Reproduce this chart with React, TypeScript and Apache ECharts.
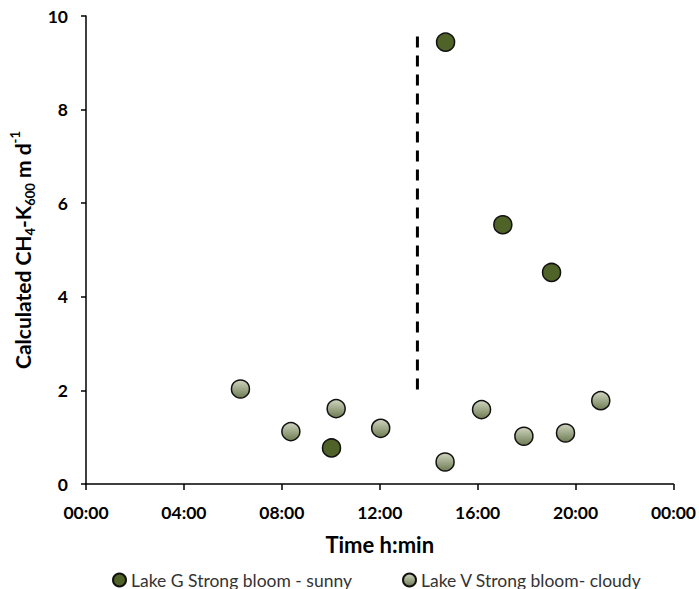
import React, { useEffect, useRef } from "react";
import * as echarts from "echarts";

// Time in decimal hours, CH4-K600 in m d-1
const lakeGTimes = [10.03, 14.69, 17.03, 19.02];
const lakeGValues = [0.77, 9.44, 5.54, 4.52];
const lakeVTimes = [6.31, 8.37, 10.22, 12.04, 14.67, 16.16, 17.89, 19.59, 21.03];
const lakeVValues = [2.03, 1.12, 1.61, 1.19, 0.47, 1.59, 1.02, 1.09, 1.78];
const dividerTimes = [13.54, 13.54];
const dividerValues = [9.56, 1.94];
const seriesNames = ["Lake G Strong bloom - sunny", "Lake V Strong bloom- cloudy"];

const FONT = "Lato, 'Open Sans', sans-serif";

function fmtTime(v: number) {
  const h = Math.round(v) % 24;
  return (h < 10 ? "0" : "") + h + ":00";
}

export default function App() {
  const ref = useRef<HTMLDivElement>(null);
  useEffect(() => {
    if (!ref.current) return;
    const chart = echarts.init(ref.current, null, { renderer: "svg" });
    const lightFill = {
      type: "linear",
      x: 0,
      y: 0,
      x2: 0,
      y2: 1,
      colorStops: [
        { offset: 0, color: "#d0d5c0" },
        { offset: 1, color: "#6e7c52" },
      ],
    };
    const legendCommon = {
      top: 566,
      icon: "circle",
      itemWidth: 13,
      itemHeight: 13,
      textStyle: { fontFamily: FONT, fontSize: 17.5, color: "#333" },
    };
    chart.setOption({
      animation: false,
      backgroundColor: "#ffffff",
      grid: { left: 86, right: 25, top: 16, bottom: 105, containLabel: false },
      legend: [
        { ...legendCommon, data: [seriesNames[0]], left: 107 },
        { ...legendCommon, data: [seriesNames[1]], left: 397 },
      ],
      xAxis: {
        type: "value",
        min: 0,
        max: 24,
        interval: 4,
        name: "Time h:min",
        nameLocation: "middle",
        nameGap: 49,
        nameTextStyle: { fontFamily: FONT, fontSize: 22, fontWeight: "bold", color: "#000" },
        axisLine: { show: true, lineStyle: { color: "#000", width: 1.5 } },
        axisTick: { show: true, length: 6, lineStyle: { color: "#000", width: 1.5 } },
        axisLabel: {
          formatter: (v: number) => fmtTime(v),
          fontFamily: FONT,
          fontSize: 17.5,
          fontWeight: "bold",
          color: "#000",
          margin: 19,
        },
        splitLine: { show: false },
      },
      yAxis: {
        type: "value",
        min: 0,
        max: 10,
        interval: 2,
        name: "{a|Calculated CH}{s|4}{a|-K}{s|600}{a| m d}{p|-1}",
        nameLocation: "middle",
        nameGap: 44,
        nameTextStyle: {
          fontFamily: FONT,
          fontSize: 21,
          fontWeight: "bold",
          color: "#000",
          rich: {
            a: { fontFamily: FONT, fontSize: 21, fontWeight: "bold", color: "#000", lineHeight: 28 },
            s: { fontFamily: FONT, fontSize: 13, fontWeight: "bold", color: "#000", lineHeight: 13, verticalAlign: "bottom" },
            p: { fontFamily: FONT, fontSize: 13, fontWeight: "bold", color: "#000", lineHeight: 13, verticalAlign: "top" },
          },
        },
        axisLine: { show: true, lineStyle: { color: "#000", width: 1.5 } },
        axisTick: { show: true, length: 5, lineStyle: { color: "#000", width: 1.5 } },
        axisLabel: { fontFamily: FONT, fontSize: 17.5, fontWeight: "bold", color: "#000", margin: 18 },
        splitLine: { show: false },
      },
      series: [
        {
          name: "divider",
          type: "line",
          data: dividerTimes.map((t, i) => [t, dividerValues[i]]),
          symbol: "none",
          silent: true,
          lineStyle: { color: "#000", width: 3, type: [11, 8] },
          z: 1,
        },
        {
          name: seriesNames[0],
          type: "scatter",
          data: lakeGTimes.map((t, i) => [t, lakeGValues[i]]),
          symbol: "circle",
          symbolSize: 18,
          itemStyle: { color: "#4f6228", borderColor: "#111", borderWidth: 1.5, opacity: 1 },
          z: 3,
        },
        {
          name: seriesNames[1],
          type: "scatter",
          data: lakeVTimes.map((t, i) => [t, lakeVValues[i]]),
          symbol: "circle",
          symbolSize: 18,
          itemStyle: { color: lightFill, borderColor: "#111", borderWidth: 1.5, opacity: 1 },
          z: 3,
        },
      ],
    });
    return () => chart.dispose();
  }, []);
  return <div ref={ref} style={{ width: 699, height: 589, position: "absolute", left: 0, top: 0 }} />;
}
